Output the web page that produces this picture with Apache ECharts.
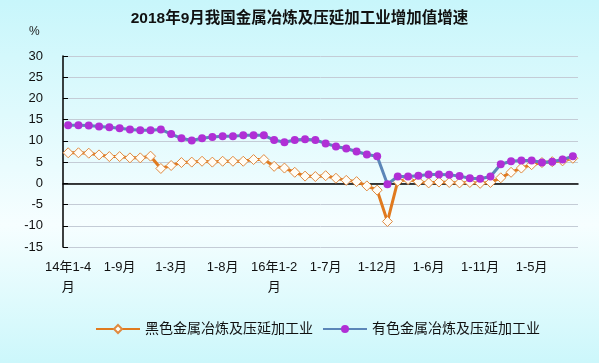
<!DOCTYPE html>
<html><head><meta charset="utf-8">
<script src="https://cdn.jsdelivr.net/npm/echarts@6/dist/echarts.min.js"></script>
<style>html,body{margin:0;padding:0;}#c{width:599px;height:363px;}</style>
</head><body><div id="c"></div>
<script>
const categories = [
 "14年1-4月","1-5月","1-6月","1-7月","1-8月","1-9月","1-10月","1-11月","1-12月",
 "15年1-2月","1-3月","1-4月","1-5月","1-6月","1-7月","1-8月","1-9月","1-10月","1-11月","1-12月",
 "16年1-2月","1-3月","1-4月","1-5月","1-6月","1-7月","1-8月","1-9月","1-10月","1-11月","1-12月",
 "17年1-2月","1-3月","1-4月","1-5月","1-6月","1-7月","1-8月","1-9月","1-10月","1-11月","1-12月",
 "18年1-2月","1-3月","1-4月","1-5月","1-6月","1-7月","1-8月","1-9月"
];
const shownLabels = ["14年1-4月","1-9月","1-3月","1-8月","16年1-2月","1-7月","1-12月","1-6月","1-11月","1-5月"];
const ferrous = [7.2,7.2,7.1,6.7,6.3,6.3,6.0,6.0,6.4,3.5,4.2,4.9,5.0,5.2,5.0,5.2,5.2,5.2,5.6,5.6,
 4.0,3.6,2.6,1.7,1.6,1.8,1.2,0.7,0.4,-0.6,-1.6,-9.0,0.5,0.9,0.4,0.1,0.3,0.2,0.1,0.2,0.0,0.2,
 1.3,2.6,3.6,4.4,4.9,5.1,5.3,5.9];
const nonferrous = [13.7,13.7,13.6,13.4,13.2,13.0,12.7,12.5,12.5,12.7,11.6,10.6,10.1,10.6,10.9,11.1,11.1,11.3,11.3,11.3,
 10.2,9.7,10.2,10.4,10.2,9.4,8.7,8.2,7.5,6.8,6.4,-0.2,1.6,1.6,1.8,2.1,2.1,2.0,1.7,1.2,1.1,1.6,
 4.5,5.2,5.4,5.4,4.9,5.1,5.6,6.4];
const seriesNames = ["黑色金属冶炼及压延加工业","有色金属冶炼及压延加工业"];
const yTicks = {min:-15, max:30, interval:5};

const chart = echarts.init(document.getElementById('c'));
const font = "'Liberation Sans', 'Noto Sans CJK SC', sans-serif";
chart.setOption({
  backgroundColor: new echarts.graphic.LinearGradient(0,0,0,1,[
    {offset:0,color:'#c8f6fb'},{offset:0.62,color:'#f6feff'},{offset:1,color:'#ccf7fb'}]),
  animation:false,
  title:{text:'2018年9月我国金属冶炼及压延加工业增加值增速',left:'center',top:6,
    textStyle:{fontSize:15.5,fontWeight:'bold',color:'#111',fontFamily:font}},
  graphic:[{type:'text',left:29,top:26,style:{text:'%',fontSize:12,fill:'#222',fontFamily:font}}],
  legend:{left:90,top:317,itemWidth:44,itemHeight:10,itemGap:9,
    textStyle:{fontSize:14,color:'#111',fontFamily:font},data:seriesNames},
  grid:{left:63,right:21,top:56,bottom:116},
  xAxis:[{type:'category',data:categories,boundaryGap:true,
      axisLine:{onZero:true,lineStyle:{color:'#000',width:1.5}},
      axisTick:{inside:true,length:5,interval:0,lineStyle:{color:'#000'}},
      axisLabel:{show:false},splitLine:{show:false}},
    {type:'category',data:categories,boundaryGap:true,position:'bottom',
      axisLine:{show:false,onZero:false},axisTick:{show:false},
      axisLabel:{interval:0,margin:10,fontSize:13,color:'#111',lineHeight:20,fontFamily:font,
        formatter:(v,i)=>{ if(i%5!==0) return ''; const s=shownLabels[i/5]; return s.includes('年')? s.replace(/月$/,'\n月'):s; }}}],
  yAxis:{type:'value',min:yTicks.min,max:yTicks.max,interval:yTicks.interval,
    axisLine:{show:true,lineStyle:{color:'#000',width:1.5}},
    axisTick:{show:true,inside:true,length:5,lineStyle:{color:'#000'}},
    axisLabel:{fontSize:13,color:'#111',margin:20,fontFamily:font},
    splitLine:{lineStyle:{color:'#c4ccd6',width:1}}},
  series:[
    {name:seriesNames[0],type:'line',data:ferrous,xAxisIndex:0,z:2,
      symbol:'diamond',symbolSize:10,showAllSymbol:true,
      lineStyle:{color:'#e07a1f',width:3},
      itemStyle:{color:'#fffdf6',borderColor:'#e08a40',borderWidth:1}},
    {name:seriesNames[1],type:'line',data:nonferrous,xAxisIndex:0,z:3,
      symbol:'circle',symbolSize:8,showAllSymbol:true,
      lineStyle:{color:'#5b86b8',width:3},
      itemStyle:{color:'#b02fd6',borderColor:'#b02fd6',borderWidth:0}}
  ]
});
</script></body></html>
